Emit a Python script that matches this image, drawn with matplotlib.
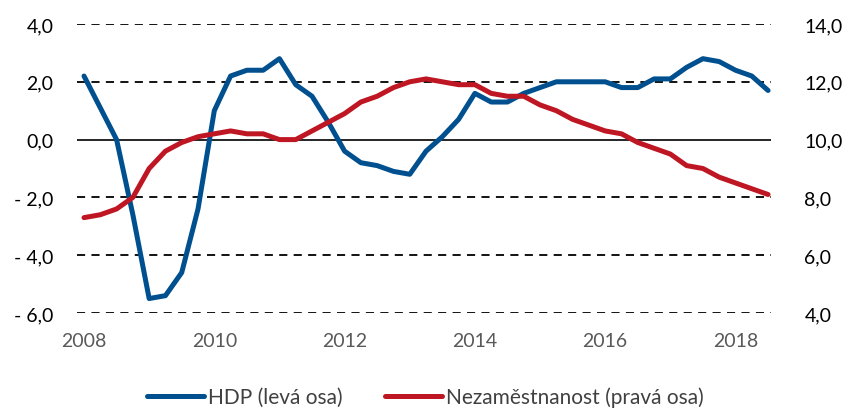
import matplotlib
matplotlib.use("Agg")
import matplotlib.pyplot as plt
from matplotlib.lines import Line2D

plt.rcParams['font.family'] = ['Lato', 'DejaVu Sans']

quarters = [f"{y}Q{q}" for y in range(2008, 2019) for q in range(1, 5)][:43]

hdp = [2.2, 1.1, 0.0, -2.6,
       -5.5, -5.4, -4.6, -2.4,
       1.0, 2.2, 2.4, 2.4,
       2.8, 1.9, 1.5, 0.6,
       -0.4, -0.8, -0.9, -1.1,
       -1.2, -0.4, 0.1, 0.7,
       1.6, 1.3, 1.3, 1.6,
       1.8, 2.0, 2.0, 2.0,
       2.0, 1.8, 1.8, 2.1,
       2.1, 2.5, 2.8, 2.7,
       2.4, 2.2, 1.7]

nezam = [7.3, 7.4, 7.6, 8.0,
         9.0, 9.6, 9.9, 10.1,
         10.2, 10.3, 10.2, 10.2,
         10.0, 10.0, 10.3, 10.6,
         10.9, 11.3, 11.5, 11.8,
         12.0, 12.1, 12.0, 11.9,
         11.9, 11.6, 11.5, 11.5,
         11.2, 11.0, 10.7, 10.5,
         10.3, 10.2, 9.9, 9.7,
         9.5, 9.1, 9.0, 8.7,
         8.5, 8.3, 8.1]

year_labels = ["2008", "2010", "2012", "2014", "2016", "2018"]
left_ticks = [4.0, 2.0, 0.0, -2.0, -4.0, -6.0]
left_labels = ["4,0", "2,0", "0,0", "- 2,0", "- 4,0", "- 6,0"]
right_ticks = [14.0, 12.0, 10.0, 8.0, 6.0, 4.0]
right_labels = ["14,0", "12,0", "10,0", "8,0", "6,0", "4,0"]
legend_labels = ["HDP (levá osa)", "Nezaměstnanost (pravá osa)"]

blue = '#00508F'
red = '#BE1622'

fig = plt.figure(figsize=(8.51, 4.10), dpi=100)
ax = fig.add_axes([77/851, 1-314/410, (771-77)/851, (314-25)/410])
ax2 = ax.twinx()

x = list(range(len(quarters)))

for y in [4, 2, -2, -4, -6]:
    ax.axhline(y, color='black', lw=1.3, ls=(0, (4.5, 3.5)), zorder=1)
ax.axhline(0, color='black', lw=1.2, zorder=1)

ax.plot(x, hdp, color=blue, lw=3.6, solid_capstyle='round', solid_joinstyle='round', zorder=3)
ax2.plot(x, nezam, color=red, lw=3.6, solid_capstyle='round', solid_joinstyle='round', zorder=3)

ax.set_xlim(-0.43, 42.18)
ax.set_ylim(-6, 4)
ax2.set_ylim(4, 14)

ax.set_yticks(left_ticks)
ax.set_yticklabels(left_labels)
ax2.set_yticks(right_ticks)
ax2.set_yticklabels(right_labels)
ax.set_xticks([quarters.index(f"{y}Q1") for y in year_labels])
ax.set_xticklabels(year_labels)

ax.tick_params(axis='y', length=0, pad=17, labelsize=14, labelcolor='black')
ax2.tick_params(axis='y', length=0, pad=24, labelsize=14, labelcolor='black')
ax.tick_params(axis='x', length=0, pad=14, labelsize=14, labelcolor='#595959')

for a in (ax, ax2):
    for s in a.spines.values():
        s.set_visible(False)

handles = [Line2D([0], [0], color=blue, lw=3.6, solid_capstyle='round'),
           Line2D([0], [0], color=red, lw=3.6, solid_capstyle='round')]
fig.legend(handles, legend_labels, loc='center', bbox_to_anchor=(0.5, 1-398/410),
           ncol=2, frameon=False, fontsize=15, labelcolor='#404040',
           handlelength=2.75, handletextpad=0.2, columnspacing=2.0)

fig.savefig('out.png', dpi=100)
